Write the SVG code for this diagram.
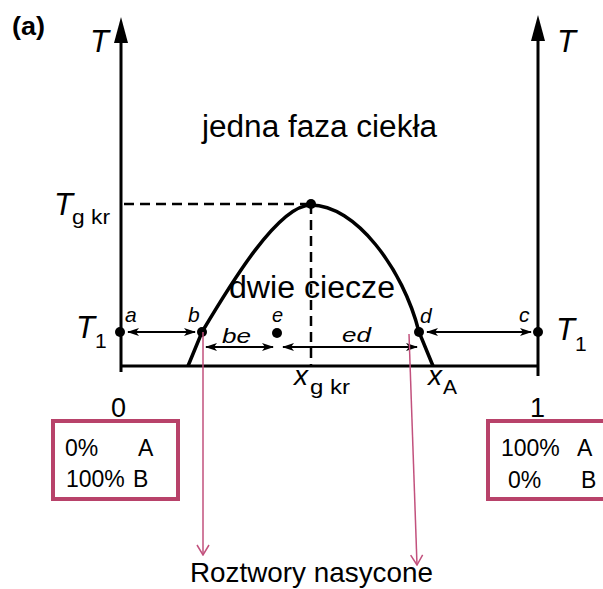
<svg xmlns="http://www.w3.org/2000/svg" width="603" height="589" viewBox="0 0 603 589">
<style>
.t{font-family:"Liberation Sans",Arial,sans-serif;fill:#000}
.i{font-style:italic}
.ax{stroke:#000;stroke-width:3;fill:none}
.dash{stroke:#000;stroke-width:2.5;stroke-dasharray:10,6;fill:none}
.dbl{stroke:#000;stroke-width:1.8;fill:none;marker-start:url(#ah);marker-end:url(#ah)}
.pk{stroke:#c2517d;stroke-width:1.5;fill:none;marker-end:url(#pa)}
.box{fill:#fff;stroke:#b8426a;stroke-width:4}
</style>
<defs>
<marker id="ah" viewBox="0 0 12 8" refX="11" refY="4" markerWidth="12" markerHeight="8" markerUnits="userSpaceOnUse" orient="auto-start-reverse">
<path d="M0,0 L12,4 L0,8 L3,4 Z" fill="#000"/>
</marker>
<marker id="pa" viewBox="0 0 12 14" refX="11" refY="7" markerWidth="12" markerHeight="14" markerUnits="userSpaceOnUse" orient="auto">
<path d="M1,1 L11,7 L1,13" fill="none" stroke="#c2517d" stroke-width="1.5"/>
</marker>
</defs>
<text class="t" x="12" y="35" font-size="25" font-weight="bold" textLength="33" lengthAdjust="spacingAndGlyphs">(a)</text>
<g id="axes">
<path class="ax" d="M121,40 V372"/>
<path d="M121,17 L114,43 L128,43 Z" fill="#000"/>
<path class="ax" d="M538,38 V376"/>
<path d="M538,15 L531,41 L545,41 Z" fill="#000"/>
<path class="ax" d="M121,366 H538"/>
</g>
<text class="t i" x="90" y="52" font-size="31">T</text>
<text class="t i" x="557" y="52" font-size="31">T</text>
<text class="t" x="202" y="137" font-size="31" textLength="235" lengthAdjust="spacingAndGlyphs">jedna faza ciekła</text>
<g id="guides">
<path class="dash" d="M124,204 H311"/>
<path class="dash" d="M311,204 V366"/>
</g>
<g id="curve">
<path d="M188,366 L202,332 C230,285 278,205 311,205 C355,205 403,268 419,332 L433,366" fill="none" stroke="#000" stroke-width="3.5"/>
</g>
<text class="t" x="229" y="298" font-size="31" textLength="166" lengthAdjust="spacingAndGlyphs">dwie ciecze</text>
<text class="t i" x="54" y="215" font-size="31">T</text>
<text class="t" x="72" y="224" font-size="21" textLength="38" lengthAdjust="spacingAndGlyphs">g kr</text>
<text class="t i" x="76" y="338" font-size="31">T</text>
<text class="t" x="95" y="348" font-size="21">1</text>
<text class="t i" x="556" y="340" font-size="31">T</text>
<text class="t" x="575" y="351" font-size="21">1</text>
<g id="points">
<circle cx="120" cy="332" r="5" fill="#000"/>
<circle cx="202" cy="332" r="5" fill="#000"/>
<circle cx="277" cy="333" r="5" fill="#000"/>
<circle cx="419" cy="332" r="5" fill="#000"/>
<circle cx="538" cy="332" r="5" fill="#000"/>
<circle cx="311" cy="204" r="5" fill="#000"/>
</g>
<text class="t i" x="125" y="322" font-size="21">a</text>
<text class="t i" x="188" y="322" font-size="21">b</text>
<text class="t i" x="272" y="322" font-size="20">e</text>
<text class="t i" x="420" y="323" font-size="21">d</text>
<text class="t i" x="519" y="322" font-size="21">c</text>
<text class="t i" x="222" y="343" font-size="21" textLength="29" lengthAdjust="spacingAndGlyphs">be</text>
<text class="t i" x="342" y="342" font-size="21" textLength="29" lengthAdjust="spacingAndGlyphs">ed</text>
<g id="connectors">
<path class="dbl" d="M128,332 H195"/>
<path class="dbl" d="M206,347 H273"/>
<path class="dbl" d="M283,347 H417"/>
<path class="dbl" d="M427,332 H531"/>
<path class="pk" d="M203,332 V555"/>
<path class="pk" d="M409,334 L417,565"/>
</g>
<text class="t i" x="294" y="385" font-size="28">x</text>
<text class="t" x="310" y="394" font-size="21" textLength="40" lengthAdjust="spacingAndGlyphs">g kr</text>
<text class="t i" x="428" y="385" font-size="28">x</text>
<text class="t" x="443" y="394" font-size="21">A</text>
<text class="t" x="111" y="417" font-size="27">0</text>
<text class="t" x="530" y="417" font-size="27">1</text>
<g id="boxL">
<rect class="box" x="53" y="421" width="125" height="78"/>
<text class="t" x="65" y="456" font-size="23">0%</text>
<text class="t" x="138" y="456" font-size="23">A</text>
<text class="t" x="66" y="487" font-size="23">100%</text>
<text class="t" x="133" y="487" font-size="23">B</text>
</g>
<g id="boxR">
<rect class="box" x="488" y="421" width="130" height="78"/>
<text class="t" x="501" y="456" font-size="23">100%</text>
<text class="t" x="577" y="456" font-size="23">A</text>
<text class="t" x="508" y="488" font-size="23">0%</text>
<text class="t" x="581" y="488" font-size="23">B</text>
</g>
<text class="t" x="190" y="582" font-size="28" textLength="243" lengthAdjust="spacingAndGlyphs">Roztwory nasycone</text>
</svg>
